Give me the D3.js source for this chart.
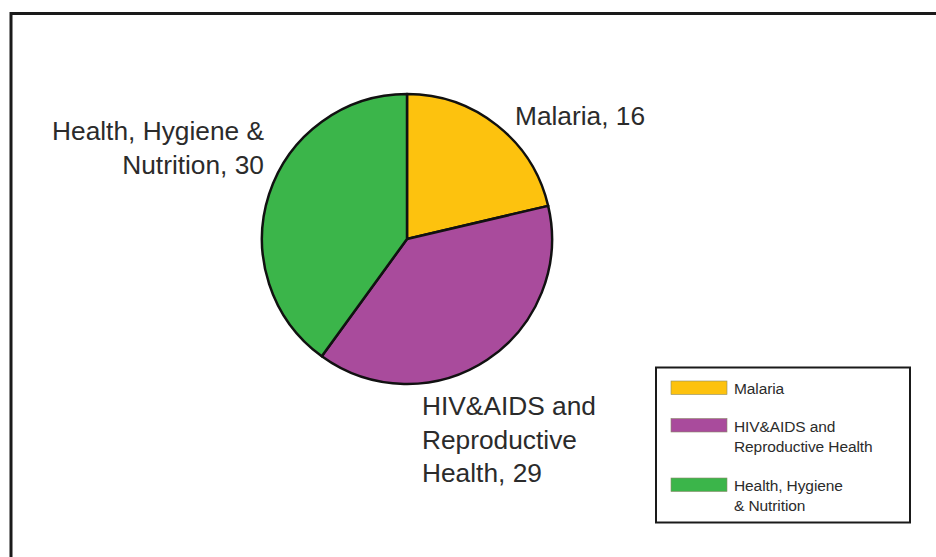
<!DOCTYPE html>
<html>
<head>
<meta charset="utf-8">
<script src="https://cdn.jsdelivr.net/npm/d3@7"></script>
<style>
  html, body { margin: 0; padding: 0; background: #fff; }
  svg { display: block; }
  text { font-family: "Liberation Sans", Arial, Helvetica, sans-serif; fill: #2b2b2b; }
</style>
</head>
<body>
<svg id="chart" width="936" height="557"></svg>
<script>
// Programme areas and their counts
const categories = ["Malaria", "HIV&AIDS and Reproductive Health", "Health, Hygiene & Nutrition"];
const values = [16, 29, 30];
const colors = ["#FDC20E", "#A94B9C", "#3BB54A"];
// Slice labels (split into lines) and legend labels
const sliceLabels = [["Malaria, 16"], ["HIV&AIDS and", "Reproductive", "Health, 29"], ["Health, Hygiene &", "Nutrition, 30"]];
const legendLabels = [["Malaria"], ["HIV&AIDS and", "Reproductive Health"], ["Health, Hygiene", "& Nutrition"]];

const svg = d3.select("#chart");

// outer frame (open to the right and bottom edges)
svg.append("path")
  .attr("d", "M11,560 L11,13.5 L940,13.5")
  .attr("fill", "none")
  .attr("stroke", "#1a1a1a")
  .attr("stroke-width", 3);

const cx = 407, cy = 239, r = 145;
const data = categories.map((c, i) => ({ name: c, value: values[i], color: colors[i], label: sliceLabels[i] }));

const pie = d3.pie().value(d => d.value).sort(null);
const arc = d3.arc().innerRadius(0).outerRadius(r);
const arcs = pie(data);

const g = svg.append("g").attr("transform", `translate(${cx},${cy})`);
g.selectAll("path.slice")
  .data(arcs)
  .join("path")
  .attr("class", "slice")
  .attr("d", arc)
  .attr("fill", d => d.data.color)
  .attr("stroke", "#111")
  .attr("stroke-width", 2.5)
  .attr("stroke-linejoin", "round");

// slice labels placed outside the pie
const labelPos = [
  { x: 515, y: 125, anchor: "start" },
  { x: 422, y: 415, anchor: "start" },
  { x: 264, y: 140, anchor: "end" }
];
const lineH = 33.5;
arcs.forEach((a, i) => {
  const t = svg.append("text")
    .attr("x", labelPos[i].x)
    .attr("y", labelPos[i].y)
    .attr("text-anchor", labelPos[i].anchor)
    .style("font-size", "26.3px")
    .attr("fill", "#333");
  a.data.label.forEach((line, j) => {
    t.append("tspan")
      .attr("x", labelPos[i].x)
      .attr("y", labelPos[i].y + j * lineH)
      .text(line);
  });
});

// legend
const lg = svg.append("g");
lg.append("rect")
  .attr("x", 656).attr("y", 367.5)
  .attr("width", 254).attr("height", 155)
  .attr("fill", "#fff")
  .attr("stroke", "#1a1a1a")
  .attr("stroke-width", 2);

const legendY = [381, 418.5, 478];
categories.forEach((c, i) => {
  lg.append("rect")
    .attr("x", 671).attr("y", legendY[i])
    .attr("width", 56).attr("height", 13.5)
    .attr("fill", colors[i])
    .attr("stroke", "#8a8a6a")
    .attr("stroke-width", 0.6);
  const t = lg.append("text")
    .attr("x", 734)
    .style("font-size", "15.5px")
    .style("letter-spacing", "-0.1px")
    .attr("fill", "#444");
  legendLabels[i].forEach((line, j) => {
    t.append("tspan")
      .attr("x", 734)
      .attr("y", legendY[i] + 13 + j * 20)
      .text(line);
  });
});
</script>
</body>
</html>
